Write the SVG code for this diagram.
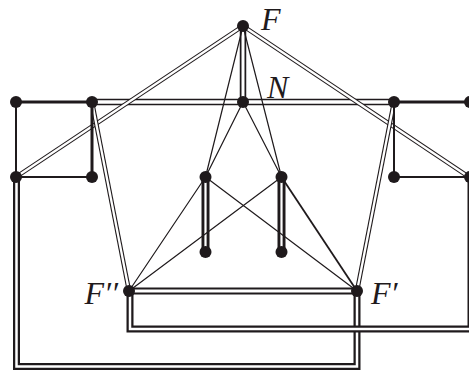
<svg xmlns="http://www.w3.org/2000/svg" xmlns:xlink="http://www.w3.org/1999/xlink" width="469" height="372" viewBox="0 0 469 372">
<style>
.bg{fill:#fff}
.n{fill:#1f1a1c}
.s{stroke:#1f1a1c;fill:none;stroke-linecap:butt}
.t1{stroke-width:1.2}
.t2{stroke-width:2}
.t3{stroke-width:3}
.lbl{font-family:"Liberation Serif","Times New Roman",serif;font-style:italic;font-size:32px;fill:#1f1a1c}
use.o{stroke:#1f1a1c;fill:none;stroke-linejoin:miter}
use.i{stroke:#fff;fill:none;stroke-linejoin:miter}
</style>
<defs>
<path id="dFL" d="M243,26 L16,177"/>
<path id="dFR" d="M243,26 L469,177"/>
<path id="dFN" d="M243,26 L243,102"/>
<path id="dTop" d="M92,102 L394,102"/>
<path id="dLF2" d="M92,102 L129,291"/>
<path id="dRF1" d="M394,102 L357,291"/>
<path id="dV1" d="M205.5,177 L205.5,252"/>
<path id="dV2" d="M281.5,177 L281.5,252"/>
<path id="dFF" d="M129,291 L357,291"/>
<path id="dLoop1" d="M130,291 L130,329 L471,329 L471,177"/>
<path id="dLoop2" d="M16.5,177 L16.5,366.5 L357,366.5 L357,291"/>
</defs>
<rect class="bg" x="0" y="0" width="469" height="372"/>
<g id="connectors">
<use xlink:href="#dLoop2" class="o" stroke-width="7"/>
<use xlink:href="#dLoop2" class="i" stroke-width="2.5"/>
<use xlink:href="#dLoop1" class="o" stroke-width="7"/>
<use xlink:href="#dLoop1" class="i" stroke-width="2.5"/>
<use xlink:href="#dFF" class="o" stroke-width="7"/>
<use xlink:href="#dFF" class="i" stroke-width="3"/>
<use xlink:href="#dV1" class="o" stroke-width="8"/>
<use xlink:href="#dV1" class="i" stroke-width="2.2"/>
<use xlink:href="#dV2" class="o" stroke-width="8"/>
<use xlink:href="#dV2" class="i" stroke-width="2.2"/>
<use xlink:href="#dTop" class="o" stroke-width="6.5"/>
<use xlink:href="#dTop" class="i" stroke-width="3.5"/>
<use xlink:href="#dFN" class="o" stroke-width="6.5"/>
<use xlink:href="#dFN" class="i" stroke-width="3"/>
<use xlink:href="#dFL" class="o" stroke-width="4.5"/>
<use xlink:href="#dFL" class="i" stroke-width="2.3"/>
<use xlink:href="#dFR" class="o" stroke-width="4.5"/>
<use xlink:href="#dFR" class="i" stroke-width="2.3"/>
<use xlink:href="#dLF2" class="o" stroke-width="4.5"/>
<use xlink:href="#dLF2" class="i" stroke-width="2.3"/>
<use xlink:href="#dRF1" class="o" stroke-width="4.5"/>
<use xlink:href="#dRF1" class="i" stroke-width="2.3"/>
<path class="s t3" d="M16,102 L92,102 M394,102 L469,102 M92,102 L92,177"/>
<path class="s t2" d="M16,102 L16,177 L92,177 M394,102 L394,177 L469,177"/>
<path class="s t1" d="M243,26 L205.5,177 M243,26 L281.5,177 M243,102 L205.5,177 M243,102 L281.5,177 M205.5,177 L129,291 M205.5,177 L357,291 M281.5,177 L129,291"/>
<path class="s" stroke-width="1.8" d="M281.5,177 L357,291"/>
</g>
<g id="node-F"><circle class="n" cx="243" cy="26" r="6"/><text class="lbl" x="261" y="30">F</text></g>
<g id="node-N"><circle class="n" cx="243" cy="102" r="6"/><text class="lbl" x="267" y="98">N</text></g>
<g id="node-a1"><circle class="n" cx="16" cy="102" r="6"/></g>
<g id="node-a2"><circle class="n" cx="92" cy="102" r="6"/></g>
<g id="node-a3"><circle class="n" cx="394" cy="102" r="6"/></g>
<g id="node-a4"><circle class="n" cx="470" cy="102" r="6"/></g>
<g id="node-b1"><circle class="n" cx="16" cy="177" r="6"/></g>
<g id="node-b2"><circle class="n" cx="92" cy="177" r="6"/></g>
<g id="node-b3"><circle class="n" cx="394" cy="177" r="6"/></g>
<g id="node-b4"><circle class="n" cx="470" cy="177" r="6"/></g>
<g id="node-c1"><circle class="n" cx="205.5" cy="177" r="6"/></g>
<g id="node-c2"><circle class="n" cx="281.5" cy="177" r="6"/></g>
<g id="node-d1"><circle class="n" cx="205.5" cy="252" r="6"/></g>
<g id="node-d2"><circle class="n" cx="281.5" cy="252" r="6"/></g>
<g id="node-F2"><circle class="n" cx="129" cy="291" r="6"/><text class="lbl" x="118" y="304" text-anchor="end">F′′</text></g>
<g id="node-F1"><circle class="n" cx="357" cy="291" r="6"/><text class="lbl" x="371" y="304">F′</text></g>
</svg>
